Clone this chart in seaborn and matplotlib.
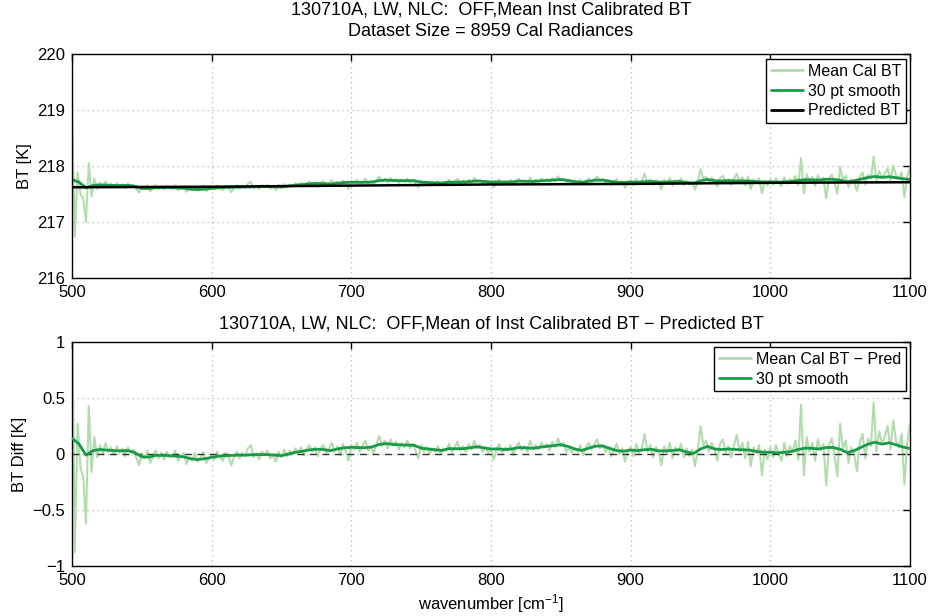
import numpy as np
import pandas as pd
import matplotlib
matplotlib.use("Agg")
import matplotlib.pyplot as plt
import seaborn as sns

# Spectral grid for the mean calibrated minus predicted brightness temperature
wn_start, wn_step = 500, 2
bt_diff = [
    1.48, -0.88, 0.27, -0.12, -0.20, -0.62, 0.43, -0.16, 0.15, -0.03,
    0.08, 0.00, 0.10, 0.02, 0.06, -0.01, 0.07, 0.01, 0.05, -0.02,
    0.06, 0.02, 0.04, -0.03, -0.10, 0.01, -0.04, 0.03, -0.08, -0.02,
    0.03, -0.04, 0.01, -0.05, 0.02, -0.03, -0.01, 0.03, -0.06, -0.02,
    0.01, -0.09, -0.03, -0.06, 0.01, -0.07, -0.03, 0.02, -0.08, -0.04,
    0.00, -0.05, 0.02, -0.03, -0.06, 0.01, -0.02, -0.10, -0.03, 0.02,
    -0.04, 0.01, -0.02, 0.05, 0.08, -0.03, 0.01, -0.05, 0.02, -0.01,
    0.03, -0.04, -0.01, -0.07, 0.02, -0.03, 0.04, -0.02, 0.03, 0.00,
    0.05, 0.01, 0.06, -0.01, 0.04, 0.08, 0.02, 0.06, -0.02, 0.05,
    0.08, 0.01, 0.05, 0.10, 0.02, 0.07, -0.01, 0.09, 0.03, -0.06,
    0.08, 0.04, 0.10, 0.02, 0.07, 0.12, 0.03, 0.06, 0.01, 0.09,
    0.16, 0.07, 0.12, 0.05, 0.13, 0.08, 0.11, 0.04, 0.10, 0.06,
    0.12, 0.05, 0.09, 0.03, -0.04, 0.08, 0.02, 0.06, 0.00, 0.05,
    0.02, 0.07, 0.00, 0.05, 0.03, 0.09, 0.01, 0.06, 0.11, 0.03,
    0.07, 0.02, 0.09, 0.04, 0.12, 0.05, 0.08, 0.02, 0.06, 0.01,
    0.05, -0.05, 0.04, 0.09, 0.01, 0.06, 0.03, 0.08, -0.01, 0.07,
    0.10, 0.03, 0.07, 0.02, 0.12, 0.05, 0.08, 0.04, 0.10, 0.06,
    0.09, 0.03, 0.11, 0.06, 0.14, 0.07, 0.10, 0.02, 0.06, 0.01,
    0.05, 0.02, 0.08, -0.01, 0.06, 0.10, 0.04, 0.09, 0.13, 0.05,
    0.08, 0.02, 0.06, -0.02, 0.04, 0.09, 0.00, 0.05, -0.07, 0.03,
    0.06, -0.02, 0.09, 0.01, 0.05, 0.18, 0.02, 0.08, -0.03, 0.06,
    0.03, -0.10, 0.07, 0.00, 0.10, -0.04, 0.06, 0.02, 0.09, -0.03,
    0.05, -0.02, 0.04, -0.11, 0.03, 0.25, 0.08, 0.12, 0.02, 0.10,
    0.05, -0.06, 0.09, 0.13, 0.01, 0.07, -0.03, 0.08, 0.17, 0.02,
    0.10, -0.04, 0.11, -0.11, 0.06, 0.01, 0.08, -0.19, 0.04, -0.05,
    0.06, -0.03, 0.08, 0.00, -0.06, 0.10, -0.02, 0.07, 0.02, 0.12,
    -0.05, 0.44, -0.19, 0.15, 0.02, 0.10, -0.06, 0.13, 0.03, 0.09,
    -0.28, 0.08, 0.14, -0.02, -0.20, 0.27, 0.05, 0.12, -0.08, 0.06,
    0.00, -0.15, 0.10, 0.18, -0.04, 0.14, 0.07, 0.46, 0.02, 0.20,
    0.09, 0.16, 0.25, 0.04, 0.30, 0.12, 0.06, 0.18, -0.27, 0.10,
    0.27,
]

# 30 point running smooth of the difference, every 5 cm-1
smooth_step = 5
bt_diff_smooth = [
    0.140, 0.090, -0.010, 0.030, 0.040, 0.035, 0.030, 0.028, 0.030, 0.012,
    -0.025, -0.028, -0.012, -0.012, -0.015, -0.020, -0.025, -0.042, -0.050, -0.042,
    -0.030, -0.020, -0.015, -0.012, -0.010, -0.010, -0.007, -0.005, -0.006, -0.010,
    -0.015, 0.000, 0.015, 0.025, 0.037, 0.043, 0.040, 0.030, 0.045, 0.055,
    0.060, 0.057, 0.056, 0.064, 0.085, 0.093, 0.085, 0.082, 0.080, 0.078,
    0.052, 0.045, 0.038, 0.032, 0.048, 0.047, 0.048, 0.055, 0.065, 0.055,
    0.045, 0.045, 0.040, 0.045, 0.058, 0.055, 0.050, 0.060, 0.068, 0.075,
    0.083, 0.068, 0.045, 0.032, 0.052, 0.070, 0.072, 0.050, 0.030, 0.025,
    0.035, 0.030, 0.038, 0.042, 0.028, 0.028, 0.032, 0.038, 0.018, 0.005,
    0.045, 0.068, 0.045, 0.040, 0.045, 0.040, 0.038, 0.035, 0.022, 0.016,
    0.015, 0.010, 0.015, 0.022, 0.040, 0.053, 0.050, 0.046, 0.058, 0.058,
    0.042, 0.012, 0.030, 0.060, 0.088, 0.105, 0.088, 0.100, 0.082, 0.062,
    0.050,
]

# Predicted brightness temperature (K) at 50 cm-1 knots
pred_wn = [500, 550, 600, 650, 700, 750, 800, 850, 900, 950, 1000, 1050, 1100]
pred_bt = [217.620, 217.625, 217.630, 217.640, 217.650, 217.660, 217.670,
           217.675, 217.680, 217.690, 217.700, 217.705, 217.710]

wn = wn_start + wn_step * np.arange(len(bt_diff))
wn_s = wn_start + smooth_step * np.arange(len(bt_diff_smooth))

pred_on_wn = np.interp(wn, pred_wn, pred_bt)
pred_on_s = np.interp(wn_s, pred_wn, pred_bt)

raw = pd.DataFrame({"wn": wn, "diff": bt_diff, "bt": pred_on_wn + np.array(bt_diff)})
smo = pd.DataFrame({"wn": wn_s, "diff": bt_diff_smooth,
                    "bt": pred_on_s + np.array(bt_diff_smooth)})
prd = pd.DataFrame({"wn": pred_wn, "bt": pred_bt})

sns.set_theme(style="white")
plt.rcParams["font.family"] = ["Liberation Sans", "DejaVu Sans"]
plt.rcParams["mathtext.fontset"] = "custom"
plt.rcParams["mathtext.rm"] = "Liberation Sans"
plt.rcParams["mathtext.it"] = "Liberation Sans"
plt.rcParams["text.color"] = "black"
plt.rcParams["axes.labelcolor"] = "black"

light = "#b3dcae"
green = "#1a9a48"
fs = 12
W, H = 935, 616

fig = plt.figure(figsize=(W / 100, H / 100), dpi=100)
ax1 = fig.add_axes([72 / W, 1 - 278 / H, 838 / W, 224 / H])
ax2 = fig.add_axes([72 / W, 1 - 566 / H, 838 / W, 224 / H])

sns.lineplot(data=raw, x="wn", y="bt", ax=ax1, color=light, lw=1.5,
             label="Mean Cal BT", estimator=None, sort=False)
sns.lineplot(data=smo, x="wn", y="bt", ax=ax1, color=green, lw=2.0,
             label="30 pt smooth", estimator=None, sort=False)
sns.lineplot(data=prd, x="wn", y="bt", ax=ax1, color="black", lw=1.8,
             label="Predicted BT", estimator=None, sort=False)

sns.lineplot(data=raw, x="wn", y="diff", ax=ax2, color=light, lw=1.5,
             label="Mean Cal BT \u2212 Pred", estimator=None, sort=False)
ax2.axhline(0, color="#333333", lw=1.0, ls=(0, (5, 4)), zorder=2.5)
sns.lineplot(data=smo, x="wn", y="diff", ax=ax2, color=green, lw=2.0,
             label="30 pt smooth", estimator=None, sort=False, zorder=3)

ax1.set_xlim(500, 1100)
ax1.set_ylim(216, 220)
ax1.set_yticks([216, 217, 218, 219, 220])
ax2.set_xlim(500, 1100)
ax2.set_ylim(-1, 1)
ax2.set_yticks([-1, -0.5, 0, 0.5, 1])
ax2.set_yticklabels(["\u22121", "\u22120.5", "0", "0.5", "1"])

for ax in (ax1, ax2):
    ax.set_xticks([500, 600, 700, 800, 900, 1000, 1100])
    ax.grid(True, color="#b0b0b0", ls=(0, (1, 3)), lw=0.9)
    ax.tick_params(direction="in", length=5, width=1, top=True, right=True,
                   labelsize=fs, colors="black", pad=5)
    for sp in ax.spines.values():
        sp.set_visible(True)
        sp.set_color("black")
        sp.set_linewidth(1.0)
    leg = ax.legend(loc="upper right", fontsize=fs - 0.5, frameon=True,
                    fancybox=False, edgecolor="black", framealpha=1,
                    borderpad=0.3, labelspacing=0.3, handlelength=2.0,
                    handletextpad=0.3, borderaxespad=0,
                    bbox_to_anchor=(1 - 4 / 838, 1 - 5 / 224))
    leg.get_frame().set_linewidth(1.0)
    for line in leg.get_lines():
        line.set_linewidth(2.0)

ax1.set_xlabel("")
ax1.set_ylabel("BT [K]", fontsize=fs)
ax2.set_ylabel("BT Diff [K]", fontsize=fs)
ax2.set_xlabel("wavenumber [cm$^{\u22121}$]", fontsize=fs, labelpad=3)

ax1.set_title("130710A, LW, NLC:  OFF,Mean Inst Calibrated BT\nDataset Size = 8959 Cal Radiances",
              fontsize=13, pad=13, linespacing=1.35)
ax2.set_title("130710A, LW, NLC:  OFF,Mean of Inst Calibrated BT \u2212 Predicted BT",
              fontsize=13, pad=10)

fig.savefig("out.png", dpi=100, facecolor="white")
